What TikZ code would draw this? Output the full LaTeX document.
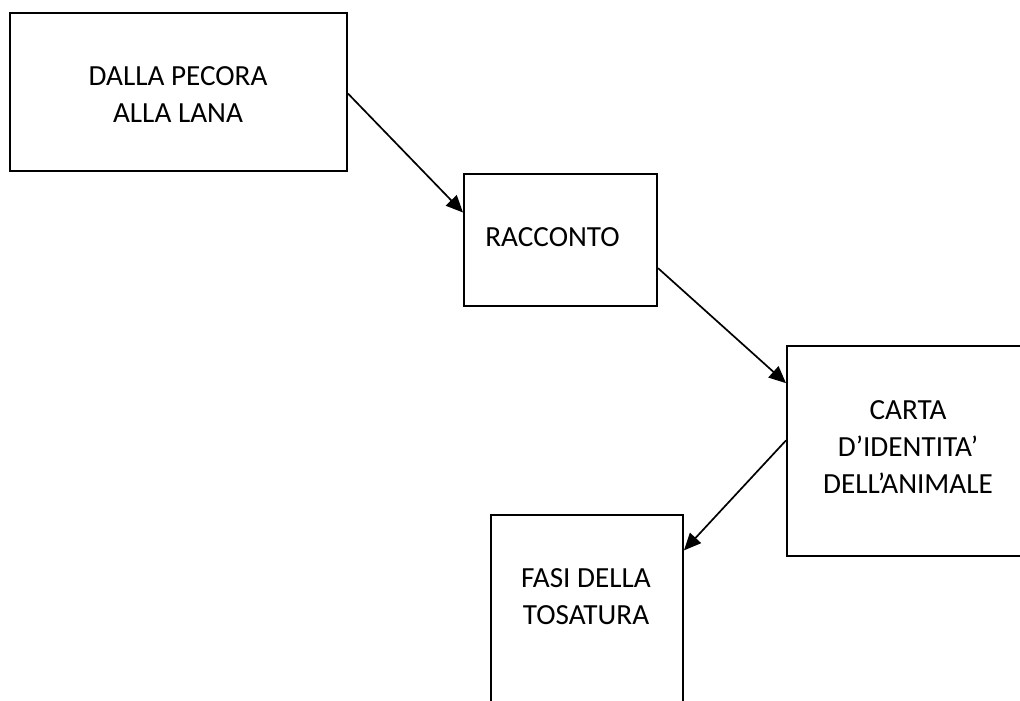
\documentclass[tikz,border=0pt]{standalone}
\usepackage{fontspec}
\setmainfont{Carlito}
\usetikzlibrary{arrows.meta,calc}

\tikzset{
  stage/.style={draw=black, line width=1pt, rectangle, inner sep=0pt, anchor=north west},
  caption/.style={align=center, inner sep=0pt, font=\fontsize{14.6}{18.5}\selectfont},
  flow/.style={draw=black, line width=0.85pt, -{Triangle[length=8.5pt,width=7.5pt]}}
}

\begin{document}
\begin{tikzpicture}[x=0.5pt, y=-0.5pt]
  \useasboundingbox (0,0) rectangle (1020,700);
  \clip (0,0) rectangle (1020,700);

  % boxes of the sequence
  \node[stage, minimum width=337*0.5pt, minimum height=158*0.5pt] (b1) at (9,12) {};
  \node[stage, minimum width=193*0.5pt, minimum height=132*0.5pt] (b2) at (463,173) {};
  \node[stage, minimum width=250*0.5pt, minimum height=210*0.5pt] (b3) at (786,345) {};
  \node[stage, minimum width=192*0.5pt, minimum height=200*0.5pt] (b4) at (490,514) {};

  % captions
  \node[caption] (t1) at (178,95) {DALLA PECORA\\ALLA LANA};
  \node[caption] (t2) at (552.5,237.5) {RACCONTO};
  \node[caption] (t3) at (908,446.7) {CARTA\\D’IDENTITA’\\DELL’ANIMALE};
  \node[caption] (t4) at (586,597) {FASI DELLA\\TOSATURA};

  % connectors
  \draw[flow] ($(b1.north east)!0.51!(b1.south east)$) -- ($(b2.north west)!0.295!(b2.south west)$);
  \draw[flow] ($(b2.north east)!0.71!(b2.south east)$) -- ($(b3.north west)!0.18!(b3.south west)$);
  \draw[flow] ($(b3.north west)!0.45!(b3.south west)$) -- ($(b4.north east)!0.18!(b4.south east)$);
\end{tikzpicture}
\end{document}
